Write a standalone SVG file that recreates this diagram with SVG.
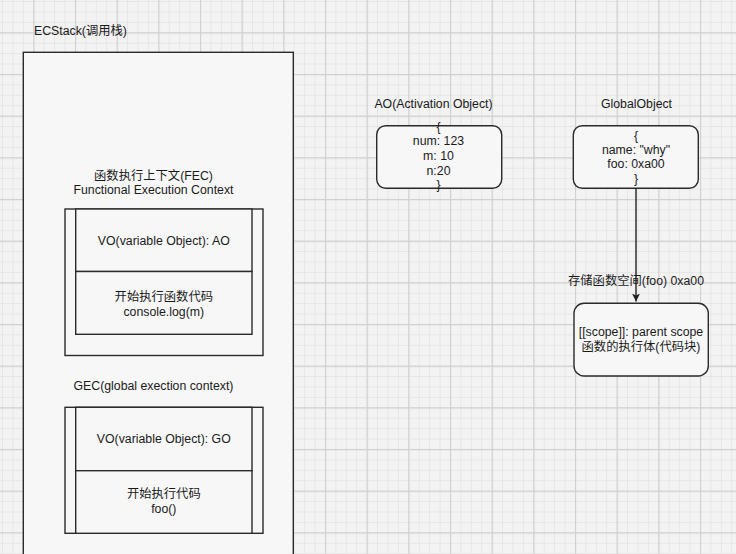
<svg xmlns="http://www.w3.org/2000/svg" width="736" height="554" viewBox="0 0 736 554">
<defs>
<pattern id="minor" patternUnits="userSpaceOnUse" x="33.3" y="32.3" width="10.417" height="10.417">
<path d="M0 0.5H10.417M0.5 0V10.417" stroke="#e6e6e6" stroke-width="1" fill="none"/>
</pattern>
<pattern id="major" patternUnits="userSpaceOnUse" x="33.3" y="32.3" width="41.667" height="41.667">
<path d="M0 0.6H41.667M0.6 0V41.667" stroke="#d0d0d0" stroke-width="1.2" fill="none"/>
</pattern>
<marker id="arrow" viewBox="0 0 10 10" refX="10" refY="5" markerWidth="8" markerHeight="8" markerUnits="userSpaceOnUse" orient="auto">
<path d="M0 0L10 5L0 10L2.5 5Z" fill="#222"/>
</marker>
</defs>
<style>
.box{fill:#f7f7f7;stroke:#2a2a2a;stroke-width:1.4}
.t{font-family:"Liberation Sans","Noto Sans CJK SC",Arial,sans-serif;font-size:12.3px;fill:#1a1a1a}
.m{text-anchor:middle}
.edge{stroke:#222;stroke-width:1.4;fill:none}
</style>
<rect width="736" height="554" fill="#f3f3f3"/>
<rect width="736" height="554" fill="url(#minor)"/>
<rect width="736" height="554" fill="url(#major)"/>

<g id="ecstack">
<rect class="box" x="23.3" y="52.3" width="270" height="520"/>
<text class="t" x="34" y="35">ECStack(调用栈)</text>
</g>

<g id="fec">
<text class="t m" x="153.5" y="180">函数执行上下文(FEC)</text>
<text class="t m" x="153.5" y="194">Functional Execution Context</text>
<rect class="box" x="65" y="209" width="198" height="146.5"/>
<rect class="box" x="75.7" y="209" width="176.3" height="62.5"/>
<rect class="box" x="75.7" y="271.5" width="176.3" height="62.8"/>
<text class="t m" x="163.8" y="245">VO(variable Object): AO</text>
<text class="t m" x="163.8" y="300.5">开始执行函数代码</text>
<text class="t m" x="163.8" y="315.5">console.log(m)</text>
</g>

<g id="gec">
<text class="t m" x="153.5" y="390">GEC(global exection context)</text>
<rect class="box" x="65" y="407.3" width="198" height="126"/>
<rect class="box" x="75.7" y="407.3" width="176.3" height="63.4"/>
<rect class="box" x="75.7" y="470.7" width="176.3" height="62.6"/>
<text class="t m" x="163.8" y="442.5">VO(variable Object): GO</text>
<text class="t m" x="163.8" y="498">开始执行代码</text>
<text class="t m" x="163.8" y="513">foo()</text>
</g>

<g id="ao">
<text class="t m" x="433.5" y="108.3">AO(Activation Object)</text>
<rect class="box" x="376.7" y="125.7" width="125" height="62.6" rx="9"/>
<text class="t m" x="438.5" y="130.5">{</text>
<text class="t m" x="438.5" y="145.2">num: 123</text>
<text class="t m" x="438.5" y="159.9">m: 10</text>
<text class="t m" x="438.5" y="174.6">n:20</text>
<text class="t m" x="438.5" y="189.3">}</text>
</g>

<g id="globalobject">
<text class="t m" x="636.5" y="108.3">GlobalObject</text>
<rect class="box" x="573.3" y="125.7" width="125" height="62.6" rx="9"/>
<text class="t m" x="636" y="139.7">{</text>
<text class="t m" x="636" y="154">name: "why"</text>
<text class="t m" x="636" y="168.3">foo: 0xa00</text>
<text class="t m" x="636" y="182.6">}</text>
</g>

<g id="connectors">
<path class="edge" d="M636 188.3V301.5" marker-end="url(#arrow)"/>
<text class="t m" x="636" y="285">存储函数空间(foo) 0xa00</text>
</g>

<g id="function">
<rect class="box" x="574" y="303.3" width="134.3" height="72.7" rx="10"/>
<text class="t m" x="641" y="335.7">[[scope]]: parent scope</text>
<text class="t m" x="641" y="350.7">函数的执行体(代码块)</text>
</g>
</svg>
